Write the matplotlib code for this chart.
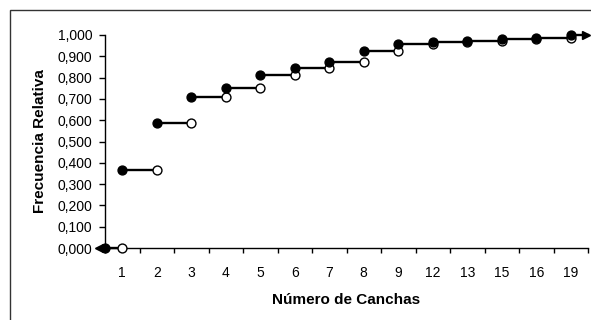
import matplotlib
matplotlib.use("Agg")
import matplotlib.pyplot as plt
from matplotlib.patches import Rectangle
from matplotlib.ticker import FixedLocator, FuncFormatter

categories = ["1", "2", "3", "4", "5", "6", "7", "8", "9", "12", "13", "15", "16", "19"]
cum_rel_freq = [0.365, 0.588, 0.710, 0.751, 0.812, 0.845, 0.873, 0.925, 0.958,
                0.966, 0.971, 0.981, 0.987, 1.000]
y_ticks = [0.0, 0.1, 0.2, 0.3, 0.4, 0.5, 0.6, 0.7, 0.8, 0.9, 1.0]

plt.rcParams['font.family'] = ['Liberation Sans', 'DejaVu Sans']

W, H = 591, 320
fig = plt.figure(figsize=(W / 100, H / 100), dpi=100)
ax = fig.add_axes([105 / W, (H - 248) / H, (588 - 105) / W, (248 - 35) / H])

n = len(categories)
xs = list(range(n))
lw = 1.7
ms = 6.4

# left start: from axis (value 0) to open point at first category
ax.plot([-0.5, 0], [0, 0], color='black', lw=lw, zorder=2, clip_on=False)
ax.plot([-0.5], [0], marker='o', ms=ms, color='black', zorder=4, clip_on=False)
ax.plot([-0.66], [0], marker='<', ms=5.5, color='black', zorder=4, clip_on=False)
ax.plot([0], [0], marker='o', ms=ms, mfc='white', mec='black', mew=1, zorder=3, clip_on=False)

# step segments
for i in range(n):
    x0 = xs[i]
    x1 = xs[i] + 1 if i < n - 1 else n - 0.5
    ax.plot([x0, x1], [cum_rel_freq[i], cum_rel_freq[i]], color='black', lw=lw,
            zorder=2, clip_on=False)
    if i < n - 1:
        ax.plot([x1], [cum_rel_freq[i]], marker='o', ms=ms, mfc='white', mec='black',
                mew=1, zorder=3, clip_on=False)
    else:
        ax.plot([x1 - 0.06], [cum_rel_freq[i]], marker='>', ms=5.5, color='black',
                zorder=4, clip_on=False)

ax.plot(xs, cum_rel_freq, linestyle='none', marker='o', ms=ms, color='black',
        zorder=5, clip_on=False)

ax.set_xlim(-0.5, n - 0.5)
ax.set_ylim(0, 1.0)

ax.set_yticks(y_ticks)
ax.yaxis.set_major_formatter(FuncFormatter(lambda v, p: f"{v:.3f}".replace('.', ',')))
ax.tick_params(axis='y', direction='out', length=4, width=1, pad=5, labelsize=10,
               colors='black')

ax.set_xticks(xs)
ax.set_xticklabels(categories)
ax.xaxis.set_minor_locator(FixedLocator([i + 0.5 for i in range(-1, n)]))
ax.tick_params(axis='x', which='major', length=0, pad=13, labelsize=10)
ax.tick_params(axis='x', which='minor', direction='out', length=3.5, width=1)

for s in ['top', 'right']:
    ax.spines[s].set_visible(False)
for s in ['left', 'bottom']:
    ax.spines[s].set_color('black')
    ax.spines[s].set_linewidth(1)

ax.set_xlabel("Número de Canchas", fontsize=11, fontweight='bold', labelpad=9.5)
ax.set_ylabel("Frecuencia Relativa", fontsize=11, fontweight='bold', labelpad=7.5)

# chart area border (partially visible)
fig.patches.append(Rectangle((10 / W, -0.1), 1.2, 1.1 - 9.5 / H,
                             transform=fig.transFigure, fill=False,
                             edgecolor='#333333', lw=1.0))

fig.savefig("out.png", dpi=100, facecolor='white')
